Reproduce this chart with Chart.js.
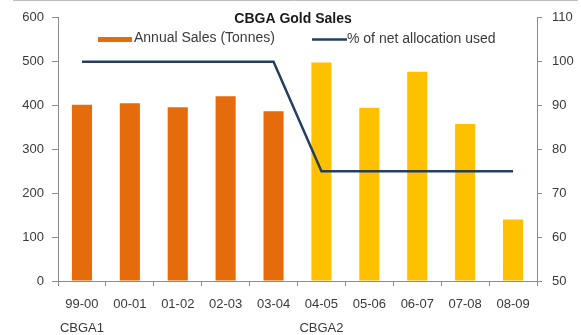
<!DOCTYPE html>
<html>
<head>
<meta charset="utf-8">
<script src="https://cdn.jsdelivr.net/npm/chart.js@4.4.1/dist/chart.umd.min.js"></script>
<style>
html,body{margin:0;padding:0;background:#fff;}
#wrap{width:581px;height:335px;position:relative;}
</style>
</head>
<body>
<div id="wrap"><canvas id="c" width="581" height="335"></canvas></div>
<script>
const chartTitle = 'CBGA Gold Sales';
const categories = [['99-00','CBGA1'],'00-01','01-02','02-03','03-04',['04-05','CBGA2'],'05-06','06-07','07-08','08-09'];
const salesLabel = 'Annual Sales (Tonnes)';
const salesValues = [402, 405, 396, 421, 387, 498, 395, 477, 358, 140];
const allocationLabel = '% of net allocation used';
const allocationValues = [100, 100, 100, 100, 100, 75, 75, 75, 75, 75];
const leftTicks = [0, 100, 200, 300, 400, 500, 600];
const rightTicks = [50, 60, 70, 80, 90, 100, 110];

const ORANGE = '#E46C0A', YELLOW = '#FFC000', NAVY = '#243F60';
const barColors = salesValues.map((v, i) => i < 5 ? ORANGE : YELLOW);
const FONT = 'Liberation Sans, Arial, sans-serif';
const AXIS = '#8c8c8c', TXT = '#3a3a3a';

const overlay = {
  id: 'overlay',
  afterDraw(chart) {
    const ctx = chart.ctx;
    ctx.save();
    ctx.strokeStyle = '#bdbdbd'; ctx.lineWidth = 1;
    ctx.beginPath(); ctx.moveTo(13, 0.5); ctx.lineTo(578, 0.5); ctx.stroke();
    ctx.fillStyle = '#1a1a1a';
    ctx.font = 'bold 14px ' + FONT;
    ctx.textAlign = 'center'; ctx.textBaseline = 'alphabetic';
    ctx.fillText(chartTitle, 293, 23);
    const ds = chart.data.datasets;
    ctx.font = '14px ' + FONT; ctx.textAlign = 'left';
    ctx.fillStyle = ds[1].backgroundColor[0];
    ctx.fillRect(98, 37, 34, 5);
    ctx.fillStyle = TXT;
    ctx.fillText(ds[1].label, 134, 42);
    ctx.strokeStyle = ds[0].borderColor; ctx.lineWidth = 2.5;
    ctx.beginPath(); ctx.moveTo(312, 39.5); ctx.lineTo(347, 39.5); ctx.stroke();
    ctx.fillText(ds[0].label, 347, 43);
    ctx.restore();
  }
};

new Chart(document.getElementById('c'), {
  data: {
    labels: categories,
    datasets: [
      { type: 'line', label: allocationLabel, data: allocationValues, yAxisID: 'y1',
        borderColor: NAVY, borderWidth: 2.5, pointRadius: 0, tension: 0, order: 0, fill: false },
      { type: 'bar', label: salesLabel, data: salesValues, yAxisID: 'y',
        backgroundColor: barColors, borderWidth: 0, categoryPercentage: 1, barPercentage: 0.42, order: 1 }
    ]
  },
  options: {
    responsive: false, animation: false, devicePixelRatio: 1,
    layout: { padding: { top: 14, left: 0, right: 0, bottom: 0 } },
    plugins: { legend: { display: false }, title: { display: false }, tooltip: { enabled: false } },
    scales: {
      x: {
        offset: true,
        grid: { offset: true, drawOnChartArea: false, drawTicks: true, tickLength: 5, color: AXIS },
        border: { color: AXIS },
        ticks: { color: TXT, font: { family: FONT, size: 13, lineHeight: 1.8 }, padding: 7, maxRotation: 0, autoSkip: false },
        afterFit(s) { s.height = 54; }
      },
      y: {
        position: 'left', min: 0, max: 600,
        afterBuildTicks(s) { s.ticks = leftTicks.map(v => ({ value: v })); },
        grid: { drawOnChartArea: false, tickLength: 6, color: AXIS },
        border: { color: AXIS },
        ticks: { color: TXT, font: { family: FONT, size: 13 }, padding: 8 },
        afterFit(s) { s.width = 58; }
      },
      y1: {
        position: 'right', min: 50, max: 110,
        afterBuildTicks(s) { s.ticks = rightTicks.map(v => ({ value: v })); },
        grid: { drawOnChartArea: false, tickLength: 5, color: AXIS },
        border: { color: AXIS },
        ticks: { color: TXT, font: { family: FONT, size: 13 }, padding: 10 },
        afterFit(s) { s.width = 44; }
      }
    }
  },
  plugins: [overlay]
});
</script>
</body>
</html>
